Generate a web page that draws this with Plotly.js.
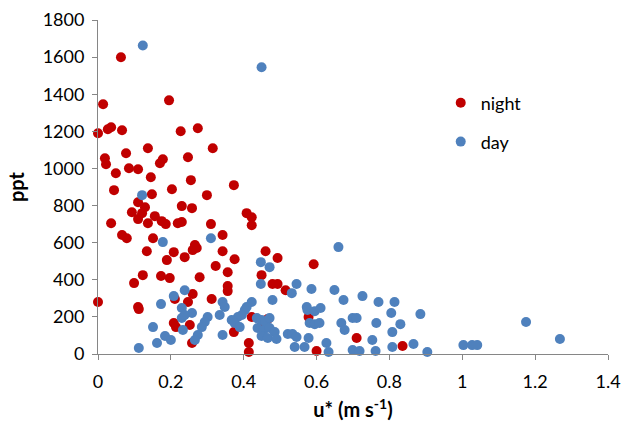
<!DOCTYPE html>
<html>
<head>
<meta charset="utf-8">
<script src="https://cdn.plot.ly/plotly-3.0.1.min.js"></script>
<style>
html,body{margin:0;padding:0;background:#fff;}
#chart{width:622px;height:425px;}
</style>
</head>
<body>
<div id="chart"></div>
<script>
// Night series (u*, ppt)
var nightX = [0.063,0.195,0.014,0.027,0.036,0.0,0.066,0.227,0.274,0.137,0.315,0.019,0.022,0.077,0.17,0.178,0.247,0.049,0.085,0.11,0.145,0.255,0.373,0.044,0.148,0.203,0.299,0.11,0.129,0.121,0.11,0.093,0.036,0.156,0.175,0.186,0.137,0.23,0.258,0.219,0.23,0.31,0.408,0.422,0.422,0.066,0.079,0.151,0.342,0.134,0.208,0.266,0.271,0.26,0.238,0.189,0.342,0.375,0.46,0.493,0.323,0.356,0.123,0.099,0.173,0.197,0.279,0.449,0.479,0.493,0.356,0.356,0.515,0.592,0.0,0.11,0.112,0.211,0.26,0.312,0.247,0.208,0.214,0.252,0.258,0.373,0.422,0.449,0.466,0.414,0.414,0.578,0.6,0.71,0.836];
var nightY = [1599,1367,1346,1211,1222,1190,1206,1200,1217,1109,1109,1055,1023,1082,1028,1050,1060,974,1001,996,953,937,910,883,861,888,856,818,791,759,727,764,705,743,716,700,705,797,786,705,711,700,759,737,694,641,624,624,641,554,549,587,571,560,522,506,554,511,554,517,474,441,425,382,420,409,414,425,377,377,366,339,344,484,280,253,242,296,323,296,280,167,145,156,59,118,199,151,188,59,11,199,16,86,43];
// Day series (u*, ppt)
var dayX = [0.123,0.449,0.121,0.178,0.31,0.66,0.447,0.471,0.447,0.479,0.238,0.208,0.173,0.23,0.23,0.233,0.151,0.184,0.2,0.162,0.112,0.258,0.238,0.301,0.293,0.285,0.274,0.266,0.342,0.348,0.334,0.342,0.422,0.408,0.403,0.395,0.384,0.367,0.375,0.389,0.436,0.449,0.46,0.471,0.438,0.455,0.471,0.485,0.449,0.466,0.545,0.532,0.586,0.649,0.674,0.726,0.77,0.814,0.573,0.575,0.595,0.611,0.581,0.595,0.608,0.668,0.677,0.699,0.71,0.764,0.805,0.885,0.83,0.808,0.753,0.521,0.534,0.545,0.49,0.578,0.54,0.567,0.627,0.633,0.699,0.718,0.762,0.808,0.866,0.904,1.003,1.027,1.041,1.175,1.268];
var dayY = [1663,1545,856,603,624,576,495,468,377,291,344,312,269,248,194,129,145,97,75,59,32,221,210,199,172,145,102,75,280,253,210,102,280,253,237,210,199,183,167,145,194,183,172,194,140,129,140,118,97,86,377,328,350,345,291,312,280,280,253,237,231,248,167,161,167,167,129,194,194,167,221,215,161,118,75,108,108,92,81,86,38,38,59,11,22,16,16,38,54,11,48,48,48,172,81];

var xTickVals = [0,0.2,0.4,0.6,0.8,1,1.2,1.4];
var yTickVals = [0,200,400,600,800,1000,1200,1400,1600,1800];

var FONT = 'Lato, "Open Sans", sans-serif';
var traces = [
  {x: nightX, y: nightY, type: 'scatter', mode: 'markers', name: 'night', legend: 'legend',
   cliponaxis: false,
   marker: {color: '#C00000', size: 10, line: {width: 0}}},
  {x: dayX, y: dayY, type: 'scatter', mode: 'markers', name: 'day', legend: 'legend2',
   cliponaxis: false,
   marker: {color: '#4F81BD', size: 10, line: {width: 0}}}
];

var axisCommon = {
  showgrid: false, zeroline: false, showline: true, linecolor: '#868686', linewidth: 1,
  ticks: 'outside', ticklen: 5, tickcolor: '#868686', tickwidth: 1,
  tickfont: {family: FONT, size: 18, color: '#000'}
};

var layout = {
  width: 622, height: 425,
  margin: {l: 98, r: 14, t: 20, b: 71},
  paper_bgcolor: '#fff', plot_bgcolor: '#fff',
  showlegend: true,
  xaxis: Object.assign({}, axisCommon, {
    range: [0, 1.4], tickvals: xTickVals, ticktext: xTickVals.map(String),
    ticklabelstandoff: 6,
    title: {text: 'u* (m s<sup>-1</sup>)', font: {family: FONT, size: 20, color: '#000', weight: 'bold'}, standoff: 12}
  }),
  yaxis: Object.assign({}, axisCommon, {
    range: [0, 1800], tickvals: yTickVals, ticktext: yTickVals.map(String),
    ticklabelstandoff: 4,
    title: {text: 'ppt', font: {family: FONT, size: 20, color: '#000', weight: 'bold'}, standoff: 12}
  }),
  legend: {x: 0.672, y: 0.7515, xanchor: 'left', yanchor: 'middle', bgcolor: 'rgba(0,0,0,0)',
    font: {family: FONT, size: 18, color: '#000'}},
  legend2: {x: 0.672, y: 0.635, xanchor: 'left', yanchor: 'middle', bgcolor: 'rgba(0,0,0,0)',
    font: {family: FONT, size: 18, color: '#000'}}
};

Plotly.newPlot('chart', traces, layout, {displayModeBar: false, staticPlot: true});
</script>
</body>
</html>
